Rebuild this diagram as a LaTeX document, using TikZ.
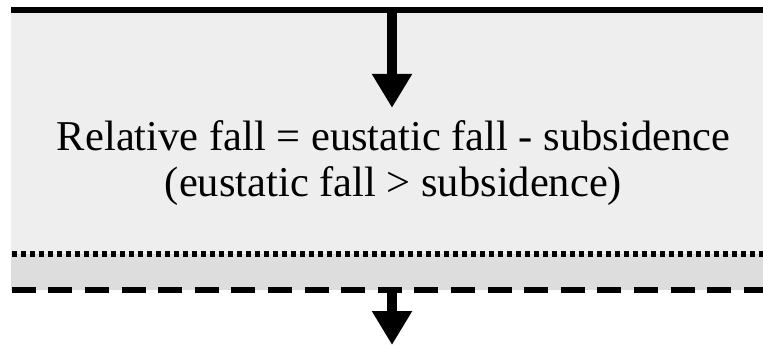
\documentclass[tikz,border=0pt]{standalone}
\usepackage{fontspec}
\setmainfont{Liberation Serif}
\usetikzlibrary{arrows.meta}
\definecolor{palegray}{RGB}{238,238,238}
\definecolor{bandgray}{RGB}{221,221,221}
\begin{document}
\begin{tikzpicture}[
 x=1pt,y=1pt,
 every node/.style={align=center,font=\fontsize{42.5}{46}\selectfont},
 flow/.style={-{Triangle[length=34pt,width=38pt]},line width=10pt},
 border/.style={line width=6pt}
]
\useasboundingbox (0,0) rectangle (763,-345);
% layers
\fill[palegray] (11,-10) rectangle (763,-254);
\fill[bandgray] (11,-254) rectangle (763,-290);
% boundaries
\draw[border] (11,-10) -- (763,-10);
\draw[border,dash pattern=on 5.7pt off 3.3pt] (11.7,-254) -- (763,-254);
\draw[border,dash pattern=on 24pt off 12.6pt] (11.7,-290) -- (763,-290);
\coordinate (in) at (392,-10);
\coordinate (base) at (392,-290);
\coordinate (out) at (392,-345);
\node[anchor=base,inner xsep=0pt,inner ysep=12pt] (rel) at (393.5,-196)
 {Relative fall = eustatic fall - subsidence\\(eustatic fall > subsidence)};
\draw[flow] (in) -- (in |- rel.north);
\draw[flow] (base) -- (out);
\end{tikzpicture}
\end{document}
